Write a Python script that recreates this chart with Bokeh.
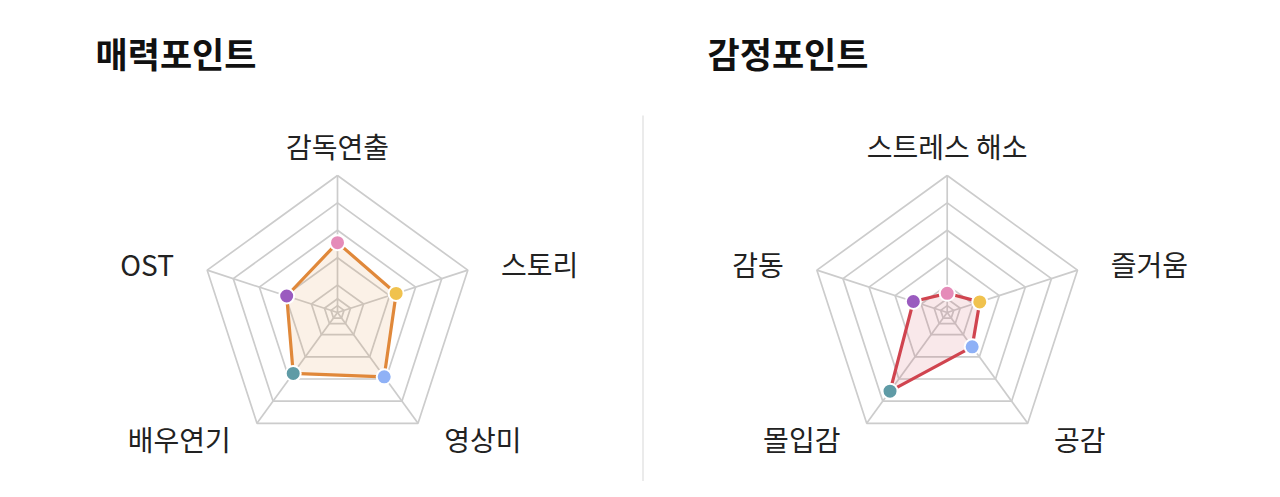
import math
from bokeh.plotting import figure
from bokeh.models import Range1d, ColumnDataSource
from bokeh.core.properties import value
from bokeh.embed import file_html
from bokeh.resources import INLINE

# ---- data ----
left_title = "매력포인트"
left_axes = ["감독연출", "스토리", "영상미", "배우연기", "OST"]
left_values = [51, 45, 58, 55, 39]

right_title = "감정포인트"
right_axes = ["스트레스 해소", "즐거움", "공감", "몰입감", "감동"]
right_values = [14, 25, 31, 71, 26]

max_value = 100
ring_levels = [5, 10, 20, 40, 60, 80, 100]
dot_colors = ["#e58cb9", "#f0c24e", "#8fb1f6", "#5f9ba6", "#9a5bbf"]

W, H = 1264, 481
FONT = "Noto Sans CJK KR"

p = figure(width=W, height=H, output_backend="svg", toolbar_location=None,
           x_range=Range1d(0, W), y_range=Range1d(H, 0), min_border=0)
p.axis.visible = False
p.grid.visible = False
p.outline_line_color = None
p.background_fill_color = "white"
p.border_fill_color = "white"


def radar(cx, cy, R, labels, values, line_color, title, title_x):
    n = len(labels)
    angles = [math.radians(90 - 360 / n * k) for k in range(n)]

    def pt(v, a):
        r = R * v / max_value
        return cx + r * math.cos(a), cy - r * math.sin(a)

    # rings
    xs, ys = [], []
    for lv in ring_levels:
        pts = [pt(lv, a) for a in angles] + [pt(lv, angles[0])]
        xs.append([q[0] for q in pts])
        ys.append([q[1] for q in pts])
    p.multi_line(xs, ys, line_color="#cccccc", line_width=1.7)
    # spokes
    p.segment(x0=[cx] * n, y0=[cy] * n,
              x1=[pt(max_value, a)[0] for a in angles],
              y1=[pt(max_value, a)[1] for a in angles],
              line_color="#cccccc", line_width=1.7)
    # data polygon
    dp = [pt(v, a) for v, a in zip(values, angles)]
    px = [q[0] for q in dp]
    py = [q[1] for q in dp]
    p.patch(px, py, fill_color=line_color, fill_alpha=0.12, line_color=None)
    p.line(px + [px[0]], py + [py[0]], line_color=line_color, line_width=3.2)
    p.scatter(px, py, size=15, fill_color=dot_colors, line_color="white", line_width=2)

    # labels
    lx, ly, al = [], [], []
    for a in angles:
        x, y = pt(max_value * 1.14, a)
        c = math.cos(a)
        if abs(c) < 0.1:
            lx.append(x); ly.append(y - 10); al.append("center")
        elif c > 0:
            lx.append(x + 15); ly.append(y); al.append("left")
        else:
            lx.append(x - 15); ly.append(y); al.append("right")
    src = ColumnDataSource(dict(x=lx, y=ly, t=labels, al=al))
    p.text(x="x", y="y", text="t", text_align="al", text_baseline="middle",
           source=src, text_font=value(FONT), text_font_size="28px",
           text_color="#222222")

    p.text(x=[title_x], y=[52], text=[title], text_align="left",
           text_baseline="middle", text_font=value(FONT),
           text_font_size="35px", text_font_style="bold", text_color="#111111")


radar(337, 312, 137, left_axes, left_values, "#e0883a", left_title, 95)
radar(946.7, 312, 137, right_axes, right_values, "#d0444f", right_title, 707)

# divider
p.segment(x0=[642.5], y0=[115], x1=[642.5], y1=[H], line_color="#e4e4e4", line_width=1.5)

open("out.html", "w").write(file_html(p, INLINE))
